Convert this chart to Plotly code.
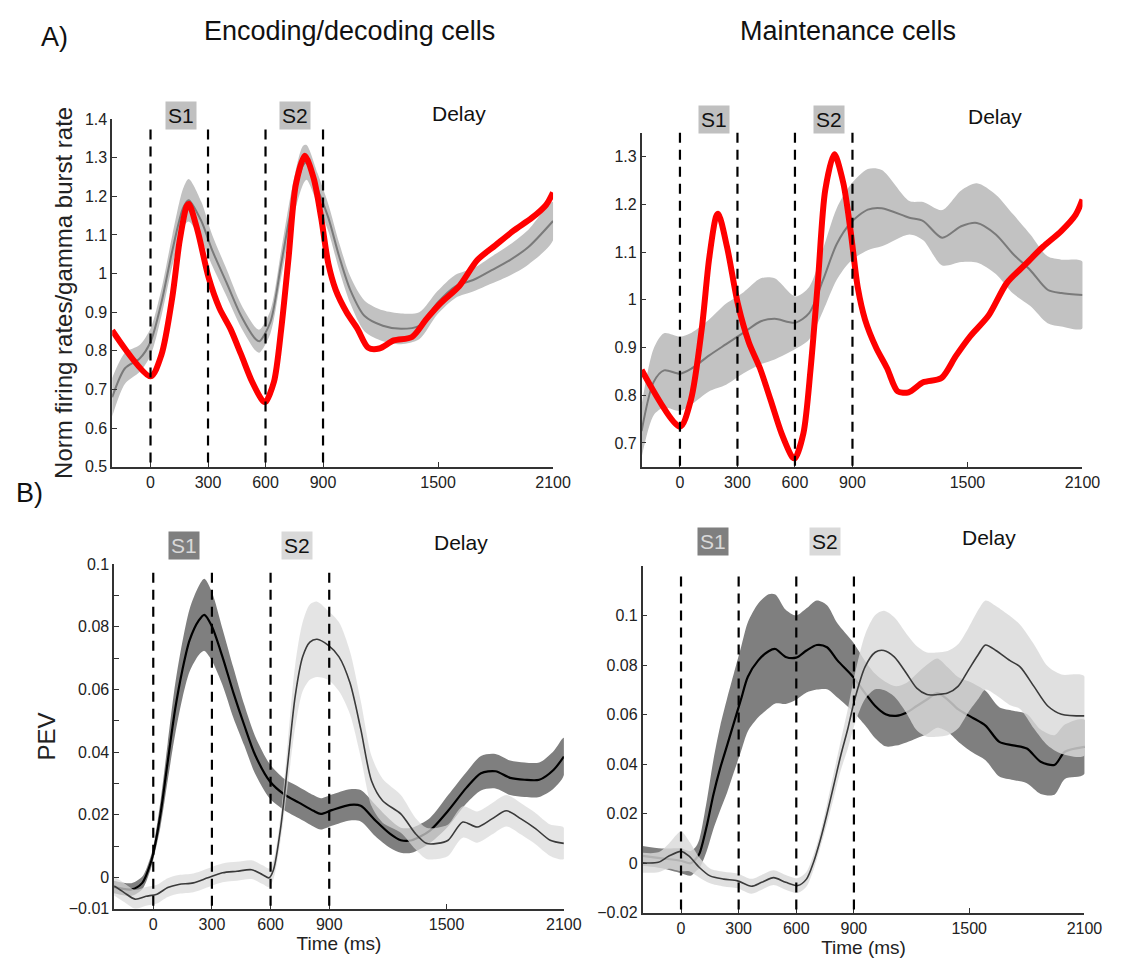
import plotly.graph_objects as go

W, H = 1130, 967

# ---------------- Data ----------------
# Panel A: red line (gamma burst rate), same for both A panels
red_t = [-200, 0, 57, 114, 152, 189, 200, 246, 303, 360, 417, 473, 530, 587, 600, 644, 682, 720, 758, 805,
         852, 890, 928, 966, 1023, 1080, 1136, 1193, 1269, 1364, 1439, 1515, 1610, 1705, 1799, 1894, 1989, 2064, 2100]
red_v = [0.853, 0.734, 0.79, 0.94, 1.085, 1.175, 1.18, 1.11, 0.99, 0.91, 0.857, 0.79, 0.72, 0.67, 0.668, 0.72, 0.857,
         1.04, 1.23, 1.305, 1.245, 1.145, 1.025, 0.958, 0.90, 0.857, 0.808, 0.806, 0.827, 0.836, 0.882, 0.924, 0.967,
         1.035, 1.073, 1.111, 1.144, 1.178, 1.21]

# Panel A left: encoding/decoding cells firing rate (mean, half-width of band)
encA_t = [-200, -133, -57, 0, 57, 114, 170, 199, 265, 322, 398, 473, 549, 568, 625, 682, 739, 795, 814, 871, 928,
          985, 1042, 1117, 1212, 1307, 1402, 1496, 1591, 1686, 1780, 1875, 1970, 2100]
encA_m = [0.68, 0.755, 0.78, 0.823, 0.925, 1.06, 1.17, 1.19, 1.136, 1.06, 0.975, 0.89, 0.83, 0.825, 0.874, 1.026,
          1.178, 1.28, 1.288, 1.22, 1.144, 1.043, 0.958, 0.89, 0.865, 0.857, 0.865, 0.924, 0.967, 0.984, 1.009, 1.035,
          1.068, 1.136]
encA_e = [0.05, 0.04, 0.035, 0.035, 0.035, 0.04, 0.05, 0.055, 0.05, 0.04, 0.035, 0.03, 0.03, 0.03, 0.03, 0.035, 0.045,
          0.05, 0.045, 0.04, 0.035, 0.035, 0.035, 0.04, 0.04, 0.04, 0.035, 0.03, 0.03, 0.03, 0.035, 0.04, 0.045, 0.05]

# Panel A right: maintenance cells firing rate
mntA_t = [-200, -137, -83, 0, 61, 151, 241, 332, 422, 494, 602, 674, 746, 818, 890, 980, 1053, 1197, 1269, 1368,
          1467, 1549, 1648, 1738, 1828, 1918, 1990, 2100]
mntA_m = [0.725, 0.828, 0.852, 0.845, 0.856, 0.883, 0.907, 0.931, 0.955, 0.96, 0.952, 0.972, 1.041, 1.117, 1.161,
          1.189, 1.192, 1.172, 1.165, 1.13, 1.154, 1.161, 1.137, 1.096, 1.062, 1.021, 1.014, 1.01]
mntA_e = [0.055, 0.07, 0.078, 0.078, 0.075, 0.075, 0.085, 0.085, 0.09, 0.085, 0.055, 0.055, 0.065, 0.075, 0.08,
          0.085, 0.08, 0.035, 0.04, 0.058, 0.075, 0.083, 0.083, 0.083, 0.075, 0.07, 0.07, 0.07]

# Panel B left: PEV encoding/decoding cells, S1 (dark) and S2 (light)
encB1_t = [-200, -112, -56, -19, 0, 37, 74, 112, 149, 186, 233, 261, 298, 354, 410, 466, 521, 596, 670, 745, 819,
           857, 913, 1006, 1061, 1136, 1210, 1266, 1322, 1415, 1508, 1601, 1676, 1750, 1825, 1899, 1974, 2048, 2100]
encB1_m = [-0.003, -0.0038, -0.0017, 0.0036, 0.0077, 0.0203, 0.037, 0.0537, 0.0662, 0.0757, 0.082, 0.0838, 0.0804,
           0.0704, 0.0589, 0.0485, 0.0391, 0.0307, 0.0265, 0.0239, 0.0213, 0.0203, 0.0215, 0.0232, 0.0229, 0.0182,
           0.014, 0.0119, 0.0119, 0.015, 0.0213, 0.0286, 0.0333, 0.0339, 0.0318, 0.0312, 0.0312, 0.0344, 0.0386]
encB1_e = [0.002, 0.002, 0.002, 0.002, 0.002, 0.004, 0.006, 0.008, 0.009, 0.010, 0.011, 0.0115, 0.011, 0.009, 0.008,
           0.0065, 0.006, 0.0055, 0.005, 0.005, 0.005, 0.005, 0.005, 0.005, 0.005, 0.005, 0.0045, 0.004, 0.004, 0.004,
           0.005, 0.005, 0.0055, 0.0055, 0.0055, 0.0055, 0.0055, 0.006, 0.006]

encB2_t = [-200, -149, -93, -37, 19, 74, 130, 205, 279, 354, 428, 503, 559, 592, 615, 652, 689, 726, 764, 801, 838,
           894, 950, 1006, 1061, 1117, 1173, 1266, 1341, 1397, 1453, 1508, 1583, 1657, 1732, 1806, 1881, 1955, 2030, 2100]
encB2_m = [-0.0027, -0.0048, -0.0069, -0.006, -0.0053, -0.0032, -0.0022, -0.0017, -0.0001, 0.0015, 0.002, 0.0025,
           0.0009, -0.0001, 0.0025, 0.0161, 0.037, 0.0579, 0.0704, 0.0751, 0.076, 0.0741, 0.0704, 0.0621, 0.0474,
           0.0307, 0.0245, 0.0203, 0.014, 0.0109, 0.0109, 0.0119, 0.0177, 0.0161, 0.0187, 0.0213, 0.0187, 0.0156,
           0.0119, 0.0109]
encB2_e = [0.003, 0.003, 0.003, 0.003, 0.003, 0.003, 0.003, 0.003, 0.003, 0.003, 0.003, 0.003, 0.003, 0.003, 0.003,
           0.004, 0.007, 0.010, 0.011, 0.012, 0.012, 0.011, 0.011, 0.010, 0.009, 0.008, 0.007, 0.006, 0.005, 0.005,
           0.005, 0.005, 0.005, 0.005, 0.005, 0.005, 0.005, 0.005, 0.005, 0.005]

# Panel B right: PEV maintenance cells
mntB1_t = [-200, -100, 0, 50, 80, 97, 133, 169, 204, 240, 276, 312, 348, 402, 456, 491, 545, 599, 653, 707, 760,
           814, 895, 958, 1011, 1065, 1119, 1173, 1227, 1280, 1334, 1388, 1442, 1514, 1585, 1657, 1729, 1800, 1872,
           1944, 1998, 2100]
mntB1_m = [0.003, 0.002, 0.001, 0.0, 0.002, 0.0041, 0.0147, 0.0279, 0.0384, 0.0476, 0.0569, 0.0661, 0.0753, 0.0819,
           0.0856, 0.0865, 0.0833, 0.083, 0.0859, 0.0881, 0.0872, 0.0819, 0.0753, 0.0687, 0.0635, 0.0602, 0.0595,
           0.0608, 0.0635, 0.0661, 0.0687, 0.0661, 0.0622, 0.0589, 0.0556, 0.049, 0.0476, 0.0463, 0.041, 0.0397,
           0.045, 0.047]
mntB1_e = [0.004, 0.004, 0.005, 0.005, 0.005, 0.006, 0.010, 0.014, 0.017, 0.019, 0.020, 0.021, 0.022, 0.023, 0.023,
           0.022, 0.019, 0.017, 0.017, 0.018, 0.017, 0.015, 0.014, 0.013, 0.013, 0.013, 0.012, 0.012, 0.013, 0.014,
           0.014, 0.013, 0.013, 0.014, 0.014, 0.014, 0.014, 0.014, 0.013, 0.012, 0.011, 0.011]

mntB2_t = [-200, -118, -65, 0, 43, 97, 151, 222, 294, 366, 420, 482, 545, 608, 653, 689, 725, 760, 796, 832, 868,
           904, 958, 1011, 1056, 1110, 1173, 1227, 1280, 1334, 1388, 1442, 1496, 1550, 1585, 1639, 1711, 1765, 1837,
           1909, 1980, 2100]
mntB2_m = [0.0002, 0.0004, 0.0028, 0.0048, 0.0028, -0.0018, -0.0051, -0.0064, -0.0071, -0.0093, -0.0077, -0.0058,
           -0.0077, -0.009, -0.0064, 0.0002, 0.0094, 0.02, 0.0318, 0.0437, 0.0542, 0.0661, 0.0793, 0.0852, 0.0859,
           0.0833, 0.0767, 0.0707, 0.0681, 0.0681, 0.0687, 0.0714, 0.078, 0.0846, 0.0881, 0.0859, 0.0819, 0.0793,
           0.0714, 0.0635, 0.0602, 0.0595]
mntB2_e = [0.004, 0.004, 0.005, 0.008, 0.006, 0.004, 0.003, 0.003, 0.003, 0.003, 0.003, 0.003, 0.003, 0.003, 0.003,
           0.003, 0.003, 0.004, 0.005, 0.006, 0.008, 0.010, 0.013, 0.015, 0.016, 0.016, 0.016, 0.017, 0.017, 0.017,
           0.017, 0.017, 0.017, 0.018, 0.018, 0.018, 0.018, 0.017, 0.017, 0.016, 0.016, 0.016]

epoch_lines = [0, 300, 600, 900]
x_ticks = [0, 300, 600, 900, 1500, 2100]

# ---------------- Figure ----------------
fig = go.Figure()

def px_x(p):
    return p / W

def px_y(p):
    return 1 - p / H

def band(t, m, e, color, xa, ya, opacity=1.0):
    upper = [a + b for a, b in zip(m, e)]
    lower = [a - b for a, b in zip(m, e)]
    fig.add_trace(go.Scatter(x=t + t[::-1], y=upper + lower[::-1], fill="toself", fillcolor=color,
                             line=dict(width=0, shape="spline", smoothing=0.8), mode="lines", opacity=opacity,
                             hoverinfo="skip", showlegend=False, xaxis=xa, yaxis=ya))

def line(t, m, color, width, xa, ya):
    fig.add_trace(go.Scatter(x=t, y=m, mode="lines", line=dict(color=color, width=width, shape="spline",
                                                               smoothing=0.8),
                             showlegend=False, xaxis=xa, yaxis=ya))

# A left
band(encA_t, encA_m, encA_e, "#c2c2c2", "x", "y")
line(encA_t, encA_m, "#7a7a7a", 2, "x", "y")
line(red_t, red_v, "#ff0000", 6, "x", "y")
# A right
band(mntA_t, mntA_m, mntA_e, "#c2c2c2", "x2", "y2")
line(mntA_t, mntA_m, "#7a7a7a", 2, "x2", "y2")
line(red_t, red_v, "#ff0000", 6, "x2", "y2")
# B left
band(encB1_t, encB1_m, encB1_e, "#7f7f7f", "x3", "y3")
line(encB1_t, encB1_m, "#000000", 2.2, "x3", "y3")
band(encB2_t, encB2_m, encB2_e, "#d9d9d9", "x3", "y3", 0.72)
line(encB2_t, encB2_m, "#3a3a3a", 1.6, "x3", "y3")
# B right
band(mntB1_t, mntB1_m, mntB1_e, "#7f7f7f", "x4", "y4")
line(mntB1_t, mntB1_m, "#000000", 2.2, "x4", "y4")
band(mntB2_t, mntB2_m, mntB2_e, "#d9d9d9", "x4", "y4", 0.82)
line(mntB2_t, mntB2_m, "#3a3a3a", 1.6, "x4", "y4")

FONT = "Liberation Sans, Arial, sans-serif"
axis_common = dict(showline=True, linecolor="#333333", linewidth=1.5, ticks="inside", ticklen=5,
                   tickcolor="#333333", showgrid=False, zeroline=False,
                   tickfont=dict(family=FONT, size=16, color="#222222"))

def xaxis(domain, anchor, title=None):
    d = dict(axis_common, domain=domain, anchor=anchor, range=[-200, 2100], tickvals=x_ticks,
             ticktext=[str(v) for v in x_ticks])
    if title:
        d["title"] = dict(text=title, font=dict(family=FONT, size=19, color="#222222"), standoff=0)
    return d

def yaxis(domain, anchor, rng, tv, tt, title=None):
    d = dict(axis_common, domain=domain, anchor=anchor, range=rng, tickvals=tv, ticktext=tt)
    if title:
        d["title"] = dict(text=title, font=dict(family=FONT, size=24, color="#222222"), standoff=6)
    return d

ya_ticks = [0.5, 0.6, 0.7, 0.8, 0.9, 1.0, 1.1, 1.2, 1.3, 1.4]
ya_text = ["0.5", "0.6", "0.7", "0.8", "0.9", "1", "1.1", "1.2", "1.3", "1.4"]
ya2_ticks = [0.7, 0.8, 0.9, 1.0, 1.1, 1.2, 1.3]
ya2_text = ["0.7", "0.8", "0.9", "1", "1.1", "1.2", "1.3"]
yb_ticks = [-0.01, 0, 0.01, 0.02, 0.03, 0.04, 0.05, 0.06, 0.07, 0.08, 0.09, 0.1]
yb_text = ["\u22120.01", "0", "", "0.02", "", "0.04", "", "0.06", "", "0.08", "", "0.1"]
yb2_ticks = [-0.02, 0, 0.02, 0.04, 0.06, 0.08, 0.1]
yb2_text = ["\u22120.02", "0", "0.02", "0.04", "0.06", "0.08", "0.1"]

fig.update_layout(
    autosize=True, margin=dict(l=0, r=0, t=0, b=0),
    paper_bgcolor="white", plot_bgcolor="white",
    xaxis=xaxis([px_x(114), px_x(562)], "y"),
    yaxis=yaxis([px_y(467), px_y(113)], "x", [0.5, 1.4], ya_ticks, ya_text,
                "Norm firing rates/gamma burst rate"),
    xaxis2=xaxis([px_x(652), px_x(1100)], "y2"),
    yaxis2=yaxis([px_y(467), px_y(127)], "x2", [0.65, 1.35], ya2_ticks, ya2_text),
    xaxis3=xaxis([px_x(116), px_x(573)], "y3", "Time (ms)"),
    yaxis3=yaxis([px_y(917), px_y(566)], "x3", [-0.01, 0.1], yb_ticks, yb_text, "PEV"),
    xaxis4=xaxis([px_x(653), px_x(1102)], "y4", "Time (ms)"),
    yaxis4=yaxis([px_y(921), px_y(568)], "x4", [-0.02, 0.12], yb2_ticks, yb2_text),
)

# dashed epoch lines (drawn from the top down so the dash pattern starts at the top)
tops = {"": 0.97, "2": 1.0, "3": 0.975, "4": 0.97}
for k, top in tops.items():
    for v in epoch_lines:
        fig.add_shape(type="line", xref="x" + k, yref=("y" + k + " domain"), x0=v, x1=v, y0=top, y1=0,
                      line=dict(color="black", width=2.2, dash="10px,7px"), layer="above")

# epoch labels
def label(text, xa, xv, ypx, bg, fc):
    fig.add_annotation(text=text, xref=xa, x=xv, yref="paper", y=px_y(ypx), showarrow=False,
                       font=dict(family=FONT, size=21, color=fc), bgcolor=bg, borderpad=2)

label("S1", "x", 159, 95, "#c0c0c0", "#111111")
label("S2", "x", 753, 95, "#c0c0c0", "#111111")
label("Delay", "x", 1609, 93, "rgba(0,0,0,0)", "#111111")
label("S1", "x2", 180, 99, "#c0c0c0", "#111111")
label("S2", "x2", 780, 99, "#c0c0c0", "#111111")
label("Delay", "x2", 1642, 96, "rgba(0,0,0,0)", "#111111")
label("S1", "x3", 156, 547, "#7f7f7f", "#d9d9d9")
label("S2", "x3", 733, 547, "#d9d9d9", "#111111")
label("Delay", "x3", 1575, 544, "rgba(0,0,0,0)", "#111111")
label("S1", "x4", 167, 543, "#7f7f7f", "#d9d9d9")
label("S2", "x4", 751, 543, "#d9d9d9", "#111111")
label("Delay", "x4", 1605, 539, "rgba(0,0,0,0)", "#111111")

# titles & panel letters
for txt, xp, yp, sz in [("Encoding/decoding cells", 355, 23, 27), ("Maintenance cells", 862, 23, 27),
                        ("A)", 55, 30, 27), ("B)", 30, 494, 27)]:
    fig.add_annotation(text=txt, xref="paper", yref="paper", x=px_x(xp), y=px_y(yp), showarrow=False,
                       font=dict(family=FONT, size=sz, color="#111111"), xanchor="center", yanchor="middle")

fig.write_html(
    "out.html",
    default_width="100vw", default_height="100vh",
    config={"displayModeBar": False, "responsive": True},
    post_script=("document.documentElement.style.margin='0px';document.body.style.margin='0px';"
                 "document.documentElement.style.overflow='hidden';document.body.style.overflow='hidden';"
                 "window.dispatchEvent(new Event('resize'));"),
)
